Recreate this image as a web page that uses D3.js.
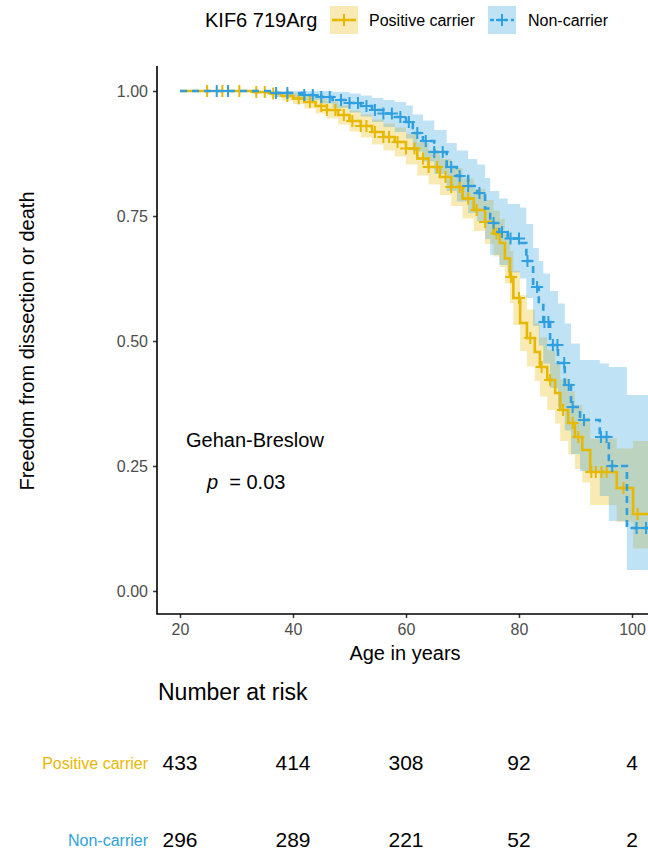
<!DOCTYPE html>
<html>
    <head>
        <meta charset="utf-8"/>
        <script src="https://cdn.jsdelivr.net/npm/d3@7"></script>
        <style>
            body { margin: 0; background: #fff; }
            text { font-family: "Liberation Sans", Arial, sans-serif; }
        </style>
    </head>
    <body>
        <div id="chart"></div>
        <script>

            // x ticks / number at risk columns
            var ageTicks = [20, 40, 60, 80, 100];
            var survTicks = [0, 0.25, 0.5, 0.75, 1];
            var groups = ["Positive carrier", "Non-carrier"];
            var riskPos = [433, 414, 308, 92, 4];
            var riskNon = [296, 289, 221, 52, 2];

            // KIF6 719Arg positive carrier
            var posAge  = [20, 33, 36, 38, 40, 42, 44, 46, 48, 50, 52, 54, 56, 58, 60, 62, 64, 66, 68, 70, 72, 74, 75.5, 76.6, 77.5, 78.4, 79, 80.2, 81.4, 82.8, 83.7, 85, 86.4, 87.3, 88.7, 89.9, 91.2, 92.6, 97.3, 100.2, 103];
            var posSurv = [1, .998, .995, .990, .985, .978, .970, .962, .952, .940, .930, .918, .908, .898, .885, .865, .848, .828, .808, .785, .762, .738, .715, .696, .665, .628, .586, .536, .506, .478, .448, .422, .396, .362, .336, .308, .282, .238, .206, .154, .154];
            var posLow  = [1, .994, .988, .981, .974, .965, .955, .945, .933, .919, .907, .893, .881, .869, .853, .831, .813, .792, .770, .745, .720, .694, .669, .648, .615, .576, .532, .480, .449, .420, .389, .362, .335, .300, .273, .244, .217, .172, .138, .085, .085];
            var posUp   = [1, 1, 1, .999, .996, .991, .985, .979, .971, .961, .953, .943, .935, .927, .915, .897, .882, .864, .846, .825, .804, .782, .761, .744, .715, .680, .640, .592, .563, .536, .507, .482, .457, .424, .399, .372, .347, .305, .285, .300, .300];
            var posCens = [24.8, 27.5, 30.5, 33.5, 35, 36.5, 39, 41, 43, 45, 46, 47.5, 49, 50.5, 52, 53, 54.5, 56, 57, 58.5, 60, 61.5, 63, 64, 65.5, 67, 68, 69.5, 71, 72.5, 74, 76, 78.6, 80, 82, 84, 85.5, 87.8, 89.5, 90.5, 92.8, 93.6, 94.6, 95.5, 98.5, 101];

            // non-carrier
            var nonAge  = [20, 37, 42, 45, 47, 50, 52, 54, 56, 58, 60, 61.2, 63, 65, 67.2, 69, 71, 72.6, 74, 74.9, 76.5, 78, 80.2, 81.3, 82.5, 83.5, 84.3, 85.5, 86.9, 88.1, 89.2, 90.8, 94.3, 95.9, 99.1, 103];
            var nonSurv = [1, .996, .992, .988, .982, .976, .970, .962, .955, .948, .938, .916, .900, .878, .848, .830, .810, .796, .765, .736, .718, .705, .696, .660, .608, .572, .538, .492, .456, .412, .368, .342, .308, .250, .126, .126];
            var nonLow  = [1, .988, .982, .975, .966, .957, .949, .938, .928, .918, .905, .879, .859, .834, .800, .779, .756, .739, .704, .672, .652, .637, .625, .586, .530, .491, .455, .406, .367, .321, .274, .240, .190, .140, .042, .042];
            var nonUp   = [1, 1, 1, 1, .998, .995, .991, .986, .982, .978, .971, .953, .941, .922, .896, .881, .864, .853, .826, .800, .785, .774, .767, .734, .686, .660, .635, .600, .575, .535, .495, .462, .455, .448, .392, .392];
            var nonCens = [26.5, 28.5, 37, 39, 42, 43.5, 45, 46.5, 48.5, 50, 51.5, 53, 54.5, 56, 57.5, 59, 60.5, 62, 63.5, 65, 66.5, 68, 69.5, 71, 73, 75.5, 77, 78.5, 80, 81.5, 83.2, 84.5, 85.2, 86, 86.8, 88, 88.8, 89.5, 91.5, 94.5, 95.5, 96.5, 100.8, 102.5];

            var orange = "#E7B800", blue = "#2E9FDF";

            var svg = d3.select("#chart").append("svg")
                .attr("width", 648).attr("height", 852);

            var x = d3.scaleLinear().domain([20, 100]).range([180, 632]);
            var y = d3.scaleLinear().domain([0, 1]).range([591, 91]);

            svg.append("clipPath").attr("id", "panel")
                .append("rect").attr("x", 157).attr("y", 60).attr("width", 500).attr("height", 555);

            var plot = svg.append("g").attr("clip-path", "url(#panel)");

            function rows(age, s, lo, up) {
                return age.map(function(a, i) { return {age: a, s: s[i], lo: lo[i], up: up[i]}; });
            }

            // survival value at a censor time (step function)
            function survAt(age, s, t) {
                var i = d3.bisectRight(age, t) - 1;
                return s[Math.max(i, 0)];
            }

            var area = d3.area().curve(d3.curveStepAfter)
                .x(function(d) { return x(d.age); })
                .y0(function(d) { return y(d.lo); })
                .y1(function(d) { return y(d.up); });
            var line = d3.line().curve(d3.curveStepAfter)
                .x(function(d) { return x(d.age); })
                .y(function(d) { return y(d.s); });

            var posRows = rows(posAge, posSurv, posLow, posUp);
            var nonRows = rows(nonAge, nonSurv, nonLow, nonUp);

            // ribbons first, then the step lines on top
            [[posRows, orange], [nonRows, blue]].forEach(function(p) {
                plot.append("path").datum(p[0]).attr("d", area)
                    .attr("fill", p[1]).attr("fill-opacity", 0.3);
            });

            function drawLine(data, cens, age, s, col, dash) {
                plot.append("path").datum(data).attr("d", line)
                    .attr("fill", "none").attr("stroke", col).attr("stroke-width", 2.6)
                    .attr("stroke-dasharray", dash);
                plot.selectAll(null).data(cens).enter().append("path")
                    .attr("transform", function(t) { return "translate(" + x(t) + "," + y(survAt(age, s, t)) + ")"; })
                    .attr("d", "M-6,0H6M0,-6V6")
                    .attr("stroke", col).attr("stroke-width", 2);
            }

            drawLine(posRows, posCens, posAge, posSurv, orange, null);
            drawLine(nonRows, nonCens, nonAge, nonSurv, blue, "7,5");

            // axes
            var yAxis = svg.append("g").attr("transform", "translate(157,0)")
                .call(d3.axisLeft(y).tickValues(survTicks).tickFormat(d3.format(".2f")).tickSize(4).tickPadding(5));
            var xAxis = svg.append("g").attr("transform", "translate(0,614)")
                .call(d3.axisBottom(x).tickValues(ageTicks).tickSize(4).tickPadding(6));
            [xAxis, yAxis].forEach(function(a) {
                a.select(".domain").remove();
                a.selectAll(".tick line").attr("stroke", "#333").attr("stroke-width", 1.5);
                a.selectAll(".tick text").attr("fill", "#4D4D4D").style("font-size", "16px")
                    .style("font-family", "'Liberation Sans', Arial, sans-serif");
            });
            svg.append("path").attr("d", "M157,66V614H648")
                .attr("fill", "none").attr("stroke", "#000").attr("stroke-width", 1.6);

            svg.append("text").attr("x", 405).attr("y", 660).attr("text-anchor", "middle")
                .style("font-size", "20px").attr("fill", "#000").text("Age in years");
            svg.append("text").attr("transform", "translate(34,341) rotate(-90)").attr("text-anchor", "middle")
                .style("font-size", "20px").attr("fill", "#000").text("Freedom from dissection or death");

            // test annotation
            svg.append("text").attr("x", 186).attr("y", 447).style("font-size", "20px").text("Gehan-Breslow");
            var pt = svg.append("text").attr("x", 207).attr("y", 489).style("font-size", "20px");
            pt.append("tspan").style("font-style", "italic").text("p");
            pt.append("tspan").text("\u00a0 = 0.03");

            // legend
            svg.append("text").attr("x", 205).attr("y", 27).style("font-size", "20px").text("KIF6 719Arg");
            var keys = [{x: 330, label: groups[0], col: orange, dash: null, tx: 369},
                        {x: 488, label: groups[1], col: blue, dash: "7,5", tx: 528}];
            keys.forEach(function(k) {
                var g = svg.append("g").attr("transform", "translate(" + k.x + ",6)");
                g.append("rect").attr("width", 28).attr("height", 28).attr("fill", k.col).attr("fill-opacity", 0.3);
                g.append("line").attr("x1", 2).attr("x2", 26).attr("y1", 14).attr("y2", 14)
                    .attr("stroke", k.col).attr("stroke-width", 2.6).attr("stroke-dasharray", k.dash ? "4,3" : null);
                g.append("path").attr("d", "M8,14H20M14,8V20").attr("stroke", k.col).attr("stroke-width", 2);
                svg.append("text").attr("x", k.tx).attr("y", 26).style("font-size", "16px").text(k.label);
            });

            // number at risk table
            svg.append("text").attr("x", 158).attr("y", 700).style("font-size", "23px").text("Number at risk");
            var table = [{label: groups[0], vals: riskPos, col: orange, yy: 769},
                         {label: groups[1], vals: riskNon, col: blue, yy: 846}];
            table.forEach(function(r) {
                svg.append("text").attr("x", 148).attr("y", r.yy).attr("text-anchor", "end")
                    .style("font-size", "16px").attr("fill", r.col).text(r.label);
                svg.selectAll(null).data(r.vals).enter().append("text")
                    .attr("x", function(d, i) { return x(ageTicks[i]); })
                    .attr("y", r.yy + 1).attr("text-anchor", "middle")
                    .style("font-size", "21px").attr("fill", "#000")
                    .text(function(d) { return d; });
            });

        </script>
    </body>
</html>
